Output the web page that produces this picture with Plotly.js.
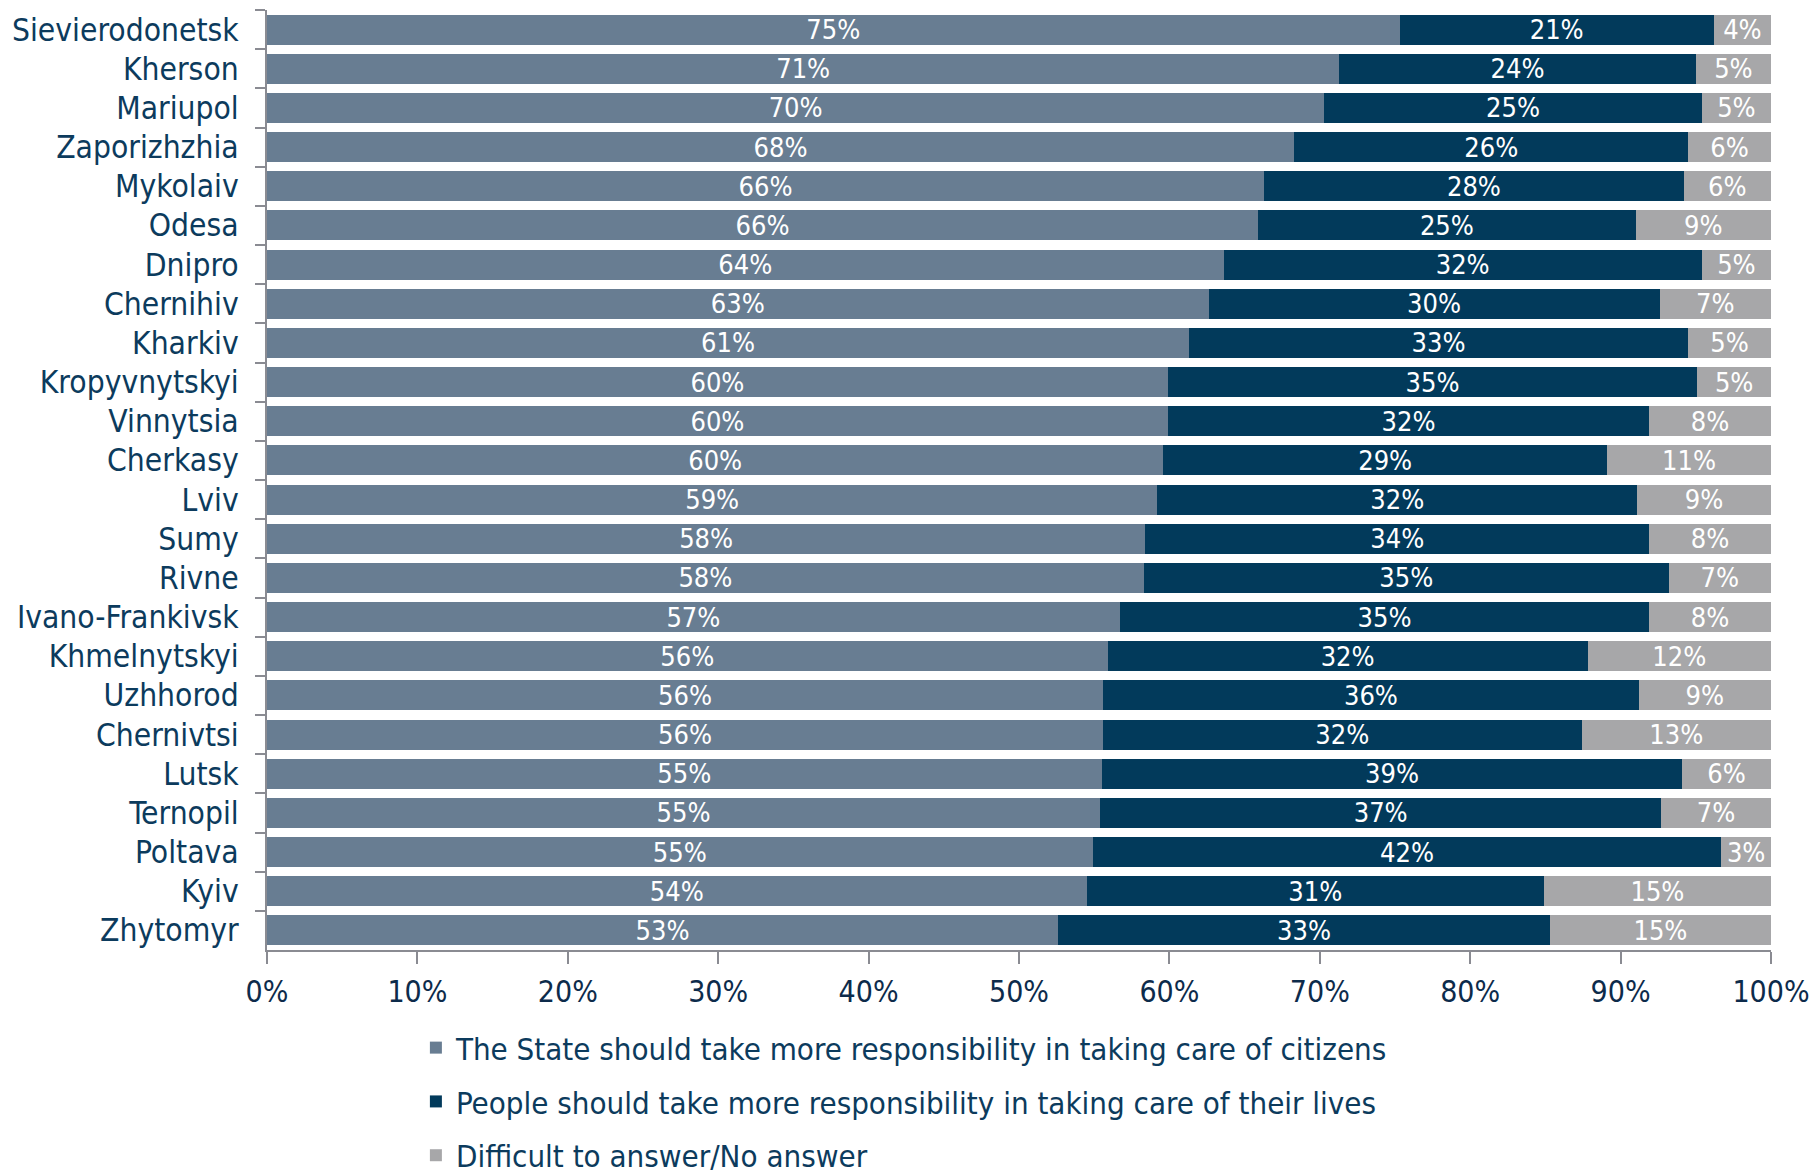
<!DOCTYPE html>
<html>
<head>
<meta charset="utf-8">
<script src="https://cdn.plot.ly/plotly-3.0.1.min.js"></script>
<style>
  html, body { margin: 0; padding: 0; background: #ffffff; }
  #chart { width: 1812px; height: 1176px; }
</style>
</head>
<body>
<div id="chart"></div>
<script>
// ---- Data (top to bottom as shown) ----
const cities = ["Sievierodonetsk", "Kherson", "Mariupol", "Zaporizhzhia", "Mykolaiv", "Odesa", "Dnipro", "Chernihiv", "Kharkiv", "Kropyvnytskyi", "Vinnytsia", "Cherkasy", "Lviv", "Sumy", "Rivne", "Ivano-Frankivsk", "Khmelnytskyi", "Uzhhorod", "Chernivtsi", "Lutsk", "Ternopil", "Poltava", "Kyiv", "Zhytomyr"];

const stateValues = [75.3, 71.3, 70.3, 68.3, 66.3, 65.9, 63.6, 62.6, 61.3, 59.9, 59.9, 59.6, 59.2, 58.4, 58.3, 56.7, 55.9, 55.6, 55.6, 55.5, 55.4, 54.9, 54.5, 52.6];
const peopleValues = [20.9, 23.7, 25.1, 26.2, 27.9, 25.1, 31.8, 30.0, 33.2, 35.2, 32.0, 29.5, 31.9, 33.5, 34.9, 35.2, 31.9, 35.6, 31.8, 38.6, 37.3, 41.8, 30.4, 32.7];
const difficultValues = [3.8, 5.0, 4.6, 5.5, 5.8, 9.0, 4.6, 7.4, 5.5, 4.9, 8.1, 10.9, 8.9, 8.1, 6.8, 8.1, 12.2, 8.8, 12.6, 5.9, 7.3, 3.3, 15.1, 14.7];

const stateLabels = [75, 71, 70, 68, 66, 66, 64, 63, 61, 60, 60, 60, 59, 58, 58, 57, 56, 56, 56, 55, 55, 55, 54, 53];
const peopleLabels = [21, 24, 25, 26, 28, 25, 32, 30, 33, 35, 32, 29, 32, 34, 35, 35, 32, 36, 32, 39, 37, 42, 31, 33];
const difficultLabels = [4, 5, 5, 6, 6, 9, 5, 7, 5, 5, 8, 11, 9, 8, 7, 8, 12, 9, 13, 6, 7, 3, 15, 15];

const seriesNames = [
  "The State should take more responsibility in taking care of citizens",
  "People should take more responsibility in taking care of their lives",
  "Difficult to answer/No answer"
];
const seriesColors = ["#687d92", "#023a5b", "#a7a7a9"];

const tickValues = [0, 10, 20, 30, 40, 50, 60, 70, 80, 90, 100];

// ---- Styling ----
const narrowFont = '"Liberation Sans Narrow", "DejaVu Sans Condensed", "DejaVu Sans", sans-serif';
const labelFont = '"DejaVu Sans Condensed", "DejaVu Sans", sans-serif';
const navy = "#0c3b5d";
const axisGray = "#8a8b92";

function makeTrace(values, labels, name, color, group) {
  return {
    type: "bar",
    orientation: "h",
    y: cities,
    x: values,
    name: name,
    legendgroup: group,
    marker: { color: color, line: { width: 0 } },
    text: labels.map(v => v + "%"),
    textposition: "inside",
    insidetextanchor: "middle",
    textangle: 0,
    constraintext: "none",
    textfont: { family: narrowFont, size: 27, color: "#ffffff" },
    hoverinfo: "skip"
  };
}

const data = [
  makeTrace(stateValues, stateLabels, seriesNames[0], seriesColors[0], "g1"),
  makeTrace(peopleValues, peopleLabels, seriesNames[1], seriesColors[1], "g2"),
  makeTrace(difficultValues, difficultLabels, seriesNames[2], seriesColors[2], "g3")
];

const layout = {
  width: 1812,
  height: 1176,
  margin: { l: 267, r: 41, t: 10, b: 226, pad: 0, autoexpand: false },
  paper_bgcolor: "#ffffff",
  plot_bgcolor: "#ffffff",
  barmode: "stack",
  bargap: 0.233,
  showlegend: true,
  legend: {
    orientation: "v",
    x: 0.099,
    xanchor: "left",
    y: -0.0755,
    yanchor: "top",
    traceorder: "grouped",
    tracegroupgap: 10.5,
    font: { family: labelFont, size: 31, color: navy },
    bgcolor: "rgba(0,0,0,0)"
  },
  xaxis: {
    range: [0, 100],
    tickvals: tickValues,
    ticktext: tickValues.map(v => v + "%"),
    showgrid: false,
    zeroline: false,
    showline: true,
    linecolor: axisGray,
    linewidth: 2,
    ticks: "outside",
    ticklen: 12,
    tickwidth: 2,
    tickcolor: axisGray,
    tickfont: { family: narrowFont, size: 30, color: "#0d2b4b" },
    ticklabelstandoff: 2,
    ticklabeloverflow: "allow",
    fixedrange: true,
    automargin: false
  },
  yaxis: {
    type: "category",
    categoryorder: "array",
    categoryarray: cities,
    autorange: "reversed",
    showgrid: false,
    zeroline: false,
    showline: true,
    linecolor: axisGray,
    linewidth: 2,
    ticks: "outside",
    tickson: "boundaries",
    ticklen: 10,
    tickwidth: 2,
    tickcolor: axisGray,
    tickfont: { family: labelFont, size: 31.5, color: navy },
    ticklabelstandoff: 20,
    fixedrange: true,
    automargin: false
  }
};

Plotly.newPlot("chart", data, layout, { displayModeBar: false, staticPlot: true });
</script>
</body>
</html>
